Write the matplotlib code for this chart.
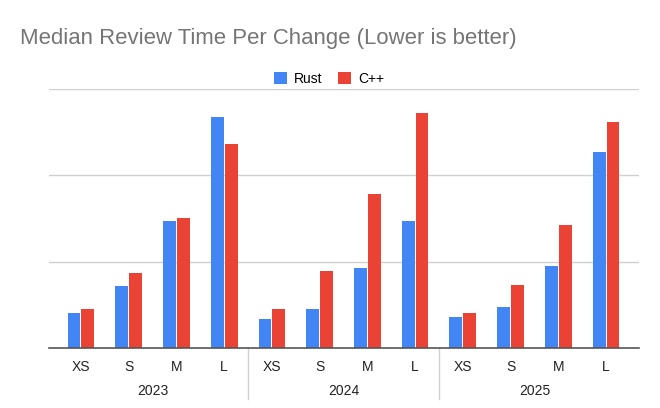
import numpy as np
import matplotlib.pyplot as plt

plt.rcParams['font.family'] = ['Liberation Sans', 'DejaVu Sans']

# Data (values in gridline units; chart has no y labels)
years = ['2023', '2024', '2025']
sizes = ['XS', 'S', 'M', 'L']
rust = [0.40, 0.71, 1.47, 2.68,
        0.33, 0.45, 0.92, 1.47,
        0.35, 0.47, 0.95, 2.27]
cpp = [0.45, 0.87, 1.50, 2.37,
       0.45, 0.89, 1.78, 2.72,
       0.40, 0.73, 1.43, 2.62]

blue = '#4285F4'
red = '#EA4335'

fig = plt.figure(figsize=(6.6, 4.08), dpi=100)
ax = fig.add_axes([0.0742, 0.148, 0.894, 0.633])

x = np.arange(len(rust))
w = 0.27
ax.bar(x - 0.145, rust, width=w, color=blue, zorder=3, label='Rust')
ax.bar(x + 0.145, cpp, width=w, color=red, zorder=3, label='C++')

ax.set_xlim(-0.67, 11.69)
ax.set_ylim(0, 3)
ax.set_yticks([1, 2, 3])
ax.set_yticklabels([])
ax.tick_params(axis='y', length=0)
ax.grid(axis='y', color='#d0d0d0', linewidth=1, zorder=0)

for s in ['top', 'right', 'left']:
    ax.spines[s].set_visible(False)
ax.spines['bottom'].set_color('#555555')
ax.spines['bottom'].set_linewidth(1.2)
ax.spines['bottom'].set_zorder(4)

ax.set_xticks(x)
ax.set_xticklabels(sizes * len(years), fontsize=10, color='#222222')
ax.tick_params(axis='x', length=0, pad=9)

# year labels and group separators
tr = ax.get_xaxis_transform()
for i, yr in enumerate(years):
    ax.text(i * 4 + 1.5, -0.168, yr, transform=tr, ha='center', va='center',
            fontsize=10, color='#222222')
for i in range(1, len(years)):
    ax.plot([i * 4 - 0.5, i * 4 - 0.5], [0, -0.2], transform=tr,
            color='#d0d0d0', linewidth=1, clip_on=False)

fig.text(0.030, 0.905, 'Median Review Time Per Change (Lower is better)',
         fontsize=15.9, color='#757575', ha='left', va='center')

ax.legend(loc='center', bbox_to_anchor=(0.475, 1.04),
          ncol=2, frameon=False, fontsize=10, handlelength=0.9, handleheight=0.9,
          columnspacing=1.1, handletextpad=0.55)

fig.savefig('out.png', dpi=100)
